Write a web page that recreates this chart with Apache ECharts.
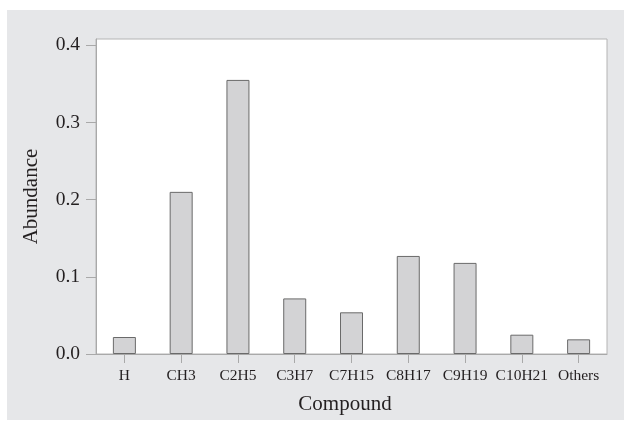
<!DOCTYPE html>
<html>
<head>
<meta charset="utf-8">
<script src="https://cdn.jsdelivr.net/npm/echarts@6/dist/echarts.min.js"></script>
<style>
  html, body { margin: 0; padding: 0; background: #ffffff; }
  #wrap { position: absolute; left: 0; top: 0; width: 624px; height: 421px; background: #ffffff; }
  #chart { position: absolute; left: 7px; top: 10px; width: 617px; height: 410px; background: #e6e7e9; }
</style>
</head>
<body>
<div id="wrap"><div id="chart"></div></div>
<script>
const categories = ['H', 'CH3', 'C2H5', 'C3H7', 'C7H15', 'C8H17', 'C9H19', 'C10H21', 'Others'];
const abundance = [0.022, 0.210, 0.355, 0.072, 0.054, 0.127, 0.118, 0.025, 0.019];
const yTicks = [0, 0.1, 0.2, 0.3, 0.4];

const FONT = '"Liberation Serif", "DejaVu Serif", serif';
const TEXT = '#231f20';
const AXIS = '#a9a9a9';

const chart = echarts.init(document.getElementById('chart'), null, { renderer: 'canvas' });
chart.setOption({
  backgroundColor: 'transparent',
  animation: false,
  grid: {
    left: 89, right: 17, top: 29, bottom: 66,
    show: true, backgroundColor: '#ffffff', borderColor: '#b4b4b4', borderWidth: 1,
    containLabel: false
  },
  xAxis: {
    type: 'category',
    data: categories,
    boundaryGap: true,
    name: 'Compound',
    nameLocation: 'middle',
    nameGap: 40,
    nameTextStyle: { fontFamily: FONT, fontSize: 21, color: TEXT, padding: [0, 13, 0, 0] },
    axisLine: { show: true, lineStyle: { color: AXIS, width: 1 } },
    axisTick: { show: true, alignWithLabel: true, length: 9, lineStyle: { color: AXIS } },
    axisLabel: { fontFamily: FONT, fontSize: 15.5, color: TEXT, margin: 14, interval: 0 },
    splitLine: { show: false }
  },
  yAxis: {
    type: 'value',
    min: 0,
    max: 0.408,
    interval: 0.1,
    name: 'Abundance',
    nameLocation: 'middle',
    nameGap: 54,
    nameRotate: 90,
    nameTextStyle: { fontFamily: FONT, fontSize: 21, color: TEXT },
    axisLine: { show: true, lineStyle: { color: AXIS, width: 1 } },
    axisTick: { show: true, length: 10, lineStyle: { color: AXIS }, customValues: yTicks },
    axisLabel: {
      fontFamily: FONT, fontSize: 19.5, color: TEXT, margin: 16,
      customValues: yTicks,
      formatter: v => v.toFixed(1)
    },
    splitLine: { show: false }
  },
  series: [{
    type: 'bar',
    data: abundance,
    barWidth: 23,
    itemStyle: { color: '#d3d3d5', borderColor: '#6a6a6a', borderWidth: 1 }
  }]
});
</script>
</body>
</html>
